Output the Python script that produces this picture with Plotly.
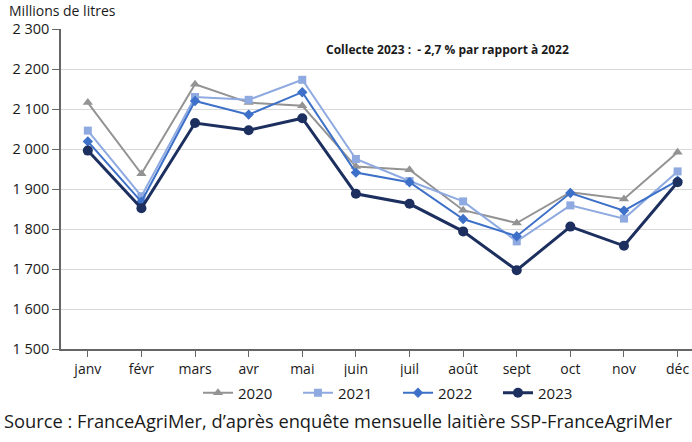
import plotly.graph_objects as go

months = ["janv", "févr", "mars", "avr", "mai", "juin", "juil", "août", "sept", "oct", "nov", "déc"]
y2020 = [2116, 1938, 2162, 2116, 2108, 1956, 1948, 1847, 1815, 1892, 1875, 1992]
y2021 = [2046, 1882, 2130, 2123, 2173, 1975, 1920, 1869, 1769, 1859, 1826, 1944]
y2022 = [2019, 1868, 2120, 2086, 2142, 1941, 1917, 1825, 1782, 1890, 1846, 1921]
y2023 = [1996, 1852, 2065, 2047, 2077, 1888, 1863, 1794, 1697, 1806, 1758, 1917]
yticks = [1500, 1600, 1700, 1800, 1900, 2000, 2100, 2200, 2300]

FONT = "Open Sans"
W, H = 692, 442
L, T, B = 61, 29, 93
pw = W - L
ph = H - T - B

series = [
    ("2020", y2020, "#939393", "triangle-up", 2, 9),
    ("2021", y2021, "#8eaae0", "square", 2, 8),
    ("2022", y2022, "#3d70c8", "diamond", 2, 8),
    ("2023", y2023, "#1c2f5f", "circle", 3, 10),
]

fig = go.Figure()
for name, ys, col, sym, lw, ms in series:
    fig.add_trace(go.Scatter(
        x=list(range(len(months))), y=ys, name=name, mode="lines+markers",
        line=dict(color=col, width=lw),
        marker=dict(symbol=sym, size=ms, color=col),
    ))

fig.update_layout(
    width=W, height=H,
    margin=dict(l=L, r=0, t=T, b=B, autoexpand=False),
    plot_bgcolor="white", paper_bgcolor="white",
    font=dict(family=FONT, size=14, color="#1a1a1a"),
    separators=", ",
    showlegend=True,
    legend=dict(orientation="h", x=(198 - L) / pw, xanchor="left",
                y=(T + ph - 393) / ph, yanchor="middle",
                font=dict(size=15), entrywidth=55, entrywidthmode="pixels",
                tracegroupgap=0),
    xaxis=dict(
        tickmode="array", tickvals=list(range(len(months))), ticktext=months,
        range=[-0.5, 11 + (W - 677.6) / 53.6],
        showgrid=False, showline=True, linecolor="#666666", linewidth=1.5,
        ticks="outside", tickson="boundaries", ticklen=6, tickcolor="#666666",
        tickfont=dict(size=14), zeroline=False,
    ),
    yaxis=dict(
        range=[1500, 2300], tickvals=yticks, tickformat=",d",
        showgrid=True, gridcolor="#d9d9d9", gridwidth=1,
        showline=True, linecolor="#666666", linewidth=1.5,
        ticks="outside", ticklen=7, tickcolor="#666666",
        tickfont=dict(size=14.5), zeroline=False,
    ),
    annotations=[
        dict(text="Millions de litres", xref="paper", yref="paper",
             x=(7 - L) / pw, y=(T + ph - 10) / ph, xanchor="left", yanchor="middle",
             showarrow=False, font=dict(size=14)),
        dict(text="<b>Collecte 2023 :  - 2,7 % par rapport à 2022</b>", xref="paper", yref="paper",
             x=(447 - L) / pw, y=(T + ph - 49) / ph, xanchor="center", yanchor="middle",
             showarrow=False, font=dict(size=12)),
        dict(text="Source : FranceAgriMer, d’après enquête mensuelle laitière SSP-FranceAgriMer",
             xref="paper", yref="paper",
             x=(2 - L) / pw, y=(T + ph - 420) / ph, xanchor="left", yanchor="middle",
             showarrow=False, font=dict(size=18.3)),
    ],
)

fig.write_html("out.html")
